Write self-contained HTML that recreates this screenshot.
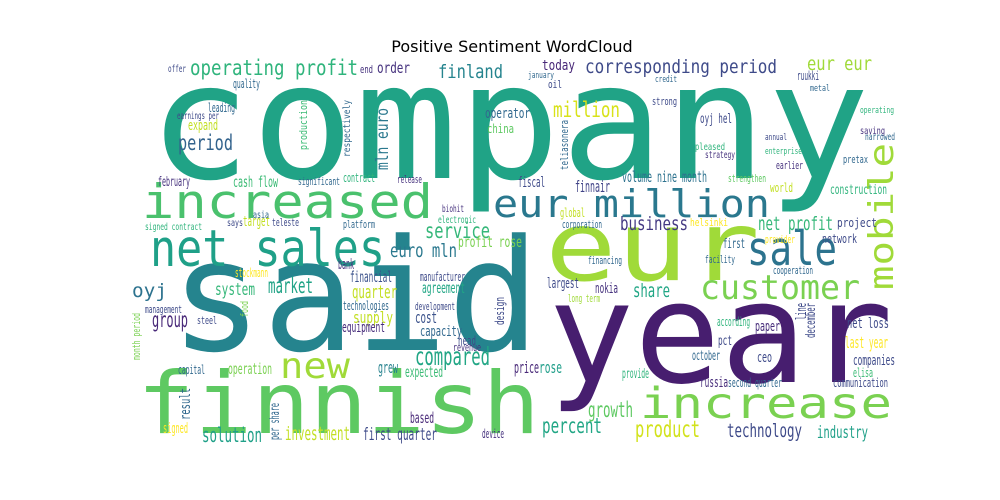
<!DOCTYPE html>
<html><head><meta charset="utf-8"><style>
body{margin:0;background:#fff}
svg{display:block}
text{font-family:"DejaVu Sans Mono","Liberation Mono",monospace}
</style></head><body>
<svg width="1000" height="500">
<text x="512" y="52" text-anchor="middle" font-size="16" fill="#000" style="font-family:'DejaVu Sans','Liberation Sans',sans-serif">Positive Sentiment WordCloud</text>
<g id="cloud"></g>
</svg>
<script>
const words=[
["company",148,178,161,722,"#20a386",0],
["said",170,350,155,370,"#25848e",0],
["year",548,382,140,345,"#471e6f",0],
["finnish",137,433,86,403,"#5ec962",0],
["eur",545,280,96,215,"#a0da39",0],
["increased",142,218,47,291,"#4ac16d",0],
["net sales",150,266,51,235,"#1fa088",0],
["increase",640,418,43,252,"#7ad151",0],
["eur million",493,217,38,277,"#2a788e",0],
["sale",747,265,47,90,"#2c738e",0],
["customer",700,299,34,160,"#7ad151",0],
["mobile",893,290,34,147,"#a0da39",-90],
["new",280,378,36,70,"#a0da39",0],
["operating profit",190,75,21,168,"#2fb47c",0],
["corresponding period",585,73,19,192,"#3e4a89",0],
["finland",438,78,19,65,"#25848e",0],
["eur eur",807,70,19,65,"#a0da39",0],
["today",542,70,14,33,"#482878",0],
["million",553,117,21,67,"#d8e219",0],
["period",178,150,21,55,"#33638d",0],
["mln euro",388,170,17,62,"#2a788e",-90],
["production",307,150,11,50,"#3bbb75",-90],
["respectively",350,157,10,57,"#31688e",-90],
["teliasonera",568,170,11,50,"#31688e",-90],
["operator",485,118,14,45,"#31688e",0],
["china",487,133,12,27,"#5ec962",0],
["service",425,238,21,65,"#35b779",0],
["profit rose",458,247,15,64,"#7ad151",0],
["euro mln",390,257,19,67,"#2a788e",0],
["business",620,230,19,68,"#443983",0],
["finnair",575,192,16,35,"#414487",0],
["volume nine month",622,182,15,85,"#2c728e",0],
["net profit",758,230,19,75,"#35b779",0],
["fiscal",518,187,14,27,"#3e4a89",0],
["construction",830,194,13,57,"#2fb47c",0],
["world",770,192,12,23,"#c2df23",0],
["strengthen",728,182,11,38,"#5ec962",0],
["ruukki",797,80,12,22,"#3e4a89",0],
["oyj hel",700,123,13,32,"#3e4a89",0],
["global",560,217,12,25,"#c2df23",0],
["corporation",562,228,11,40,"#31688e",0],
["helsinki",690,226,11,38,"#fde725",0],
["project",837,227,12,40,"#3e4a89",0],
["network",822,243,12,35,"#3e4a89",0],
["provider",765,243,11,30,"#fde725",0],
["first",723,248,13,22,"#31688e",0],
["pretax",843,163,11,25,"#31688e",0],
["earlier",776,169,11,27,"#46327e",0],
["saving",860,134,10,25,"#46327e",0],
["narrowed",865,140,10,30,"#31688e",0],
["strong",652,105,11,25,"#3e4a89",0],
["pleased",695,150,10,30,"#2fb47c",0],
["strategy",705,158,10,30,"#46327e",0],
["oyj",132,297,19,35,"#2c728e",0],
["system",215,295,17,40,"#35b779",0],
["market",268,293,21,45,"#20a386",0],
["quarter",352,298,18,45,"#c2df23",0],
["financial",350,282,15,42,"#3b528b",0],
["bank",338,269,14,16,"#46327e",0],
["agreement",422,293,15,43,"#21a685",0],
["manufacturer",420,281,12,45,"#3e4a89",0],
["group",152,327,21,36,"#482878",0],
["management",145,313,11,37,"#3e4a89",0],
["steel",197,324,11,20,"#3e4a89",0],
["food",248,317,11,16,"#7ad151",-90],
["supply",353,323,16,40,"#c2df23",0],
["equipment",342,332,14,43,"#472d7b",0],
["cost",415,323,16,22,"#3b528b",0],
["capacity",420,336,14,42,"#31688e",0],
["head",458,345,12,18,"#3e4a89",0],
["revenue",453,351,11,28,"#46327e",0],
["compared",415,365,25,75,"#21a685",0],
["operation",228,374,15,44,"#7ad151",0],
["capital",178,374,12,27,"#31688e",0],
["grew",378,373,16,20,"#26828e",0],
["expected",405,377,15,38,"#3bbb75",0],
["result",190,420,14,32,"#31688e",-90],
["per share",279,440,13,37,"#31688e",-90],
["month period",140,360,11,47,"#7ad151",-90],
["based",410,423,15,24,"#482878",0],
["solution",202,442,20,60,"#1fa088",0],
["investment",285,440,19,65,"#c2df23",0],
["first quarter",363,440,17,74,"#3e4a89",0],
["signed",163,433,14,25,"#fde725",0],
["device",482,438,12,22,"#46327e",0],
["stockmann",235,277,12,33,"#fde725",0],
["technologies",343,310,12,46,"#31688e",0],
["development",415,310,11,40,"#3e4a89",0],
["design",504,325,12,28,"#3e4a89",-90],
["largest",547,288,14,32,"#3e4a89",0],
["share",633,297,19,37,"#21a685",0],
["nokia",595,293,14,23,"#46327e",0],
["price",514,373,16,25,"#482878",0],
["rose",539,373,16,23,"#1f9e89",0],
["percent",542,433,21,60,"#21a685",0],
["product",635,437,23,65,"#d2e21b",0],
["growth",588,417,21,45,"#5ec962",0],
["technology",727,437,19,75,"#3e4a89",0],
["industry",817,438,17,51,"#1fa088",0],
["russia",700,387,14,28,"#472d7b",0],
["second quarter",728,387,12,54,"#31688e",0],
["communication",833,387,12,55,"#3e4a89",0],
["elisa",853,377,12,20,"#3bbb75",0],
["companies",853,365,14,42,"#3e4a89",0],
["last year",845,348,16,43,"#fde725",0],
["net loss",847,328,14,42,"#3e4a89",0],
["paper",755,331,14,25,"#472d7b",0],
["ceo",757,362,14,15,"#3e4a89",0],
["october",692,360,13,28,"#31688e",0],
["pct",718,345,13,14,"#3e4a89",0],
["provide",622,378,13,27,"#2fb47c",0],
["line",806,320,14,17,"#3e4a89",-90],
["december",815,338,13,35,"#3e4a89",-90],
["according",717,326,12,33,"#2fb47c",0],
["long term",568,302,11,32,"#a0da39",0],
["cooperation",773,274,11,40,"#31688e",0],
["facility",705,263,11,30,"#31688e",0],
["financing",588,264,11,34,"#31688e",0],
["order",377,73,15,33,"#46327e",0],
["end",360,73,11,13,"#46327e",0],
["offer",168,72,10,18,"#3e4a89",0],
["quality",233,88,12,27,"#31688e",0],
["leading",208,112,12,27,"#31688e",0],
["earnings per",177,119,10,42,"#3e4a89",0],
["expand",188,130,14,30,"#c2df23",0],
["cash flow",233,187,15,45,"#3bbb75",0],
["february",158,186,13,32,"#46327e",0],
["contract",343,182,12,32,"#2fb47c",0],
["significant",298,185,11,42,"#31688e",0],
["release",397,183,11,25,"#46327e",0],
["target",243,226,14,27,"#c2df23",0],
["teleste",272,226,11,27,"#3e4a89",0],
["says",227,226,10,16,"#3e4a89",0],
["asia",253,218,10,16,"#31688e",0],
["signed contract",145,230,10,57,"#2fb47c",0],
["platform",343,228,11,32,"#31688e",0],
["electronic",438,223,10,38,"#2fb47c",0],
["biohit",442,212,10,22,"#46327e",0],
["oil",548,88,11,14,"#3e4a89",0],
["january",528,78,9,26,"#31688e",0],
["credit",655,82,9,22,"#31688e",0],
["metal",810,91,9,20,"#31688e",0],
["operating",860,113,9,34,"#2fb47c",0],
["annual",765,140,9,22,"#3e4a89",0],
["enterprise",765,154,9,37,"#2fb47c",0]
];
const g=document.getElementById('cloud');
const NS='http://www.w3.org/2000/svg';
for(const w of words){
 const t=document.createElementNS(NS,'text');
 
 
 t.setAttribute('x',w[1]);t.setAttribute('y',w[2]);
 t.setAttribute('font-size',w[3]);t.setAttribute('fill',w[5]);
 t.setAttribute('textLength',w[4]);t.setAttribute('lengthAdjust','spacingAndGlyphs');
 if(w[6]){t.setAttribute('transform','rotate('+w[6]+' '+w[1]+' '+w[2]+')');}
 t.textContent=w[0];
 g.appendChild(t);
}
</script>
</body></html>
